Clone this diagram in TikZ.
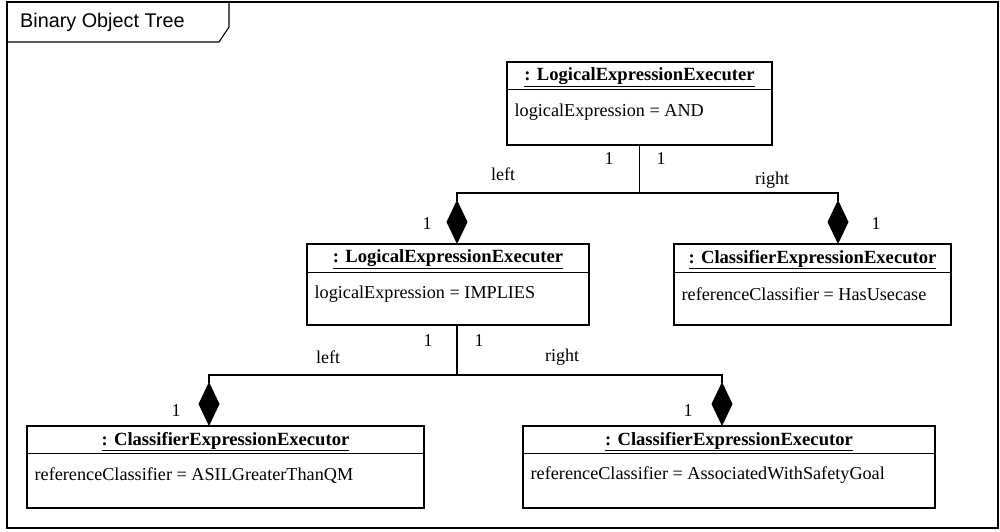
\documentclass[tikz,border=0pt]{standalone}
\usepackage{fontspec}
\setmainfont{Liberation Serif}
\newfontfamily\framefont{Liberation Sans}
\usetikzlibrary{arrows.meta}
\begin{document}
\begin{tikzpicture}[x=1pt,y=-1pt,
  objbox/.style={draw,line width=1.1pt,inner sep=0pt},
  hdr/.style={font=\fontsize{18.6}{21}\selectfont\bfseries,inner sep=0pt},
  attr/.style={font=\fontsize{18.2}{21}\selectfont,anchor=west,inner sep=0pt},
  lbl/.style={font=\fontsize{18}{21}\selectfont,inner sep=0pt},
  link/.style={line width=1.1pt},
  comp/.style={link,-{Diamond[length=44pt,width=21pt]}},
  divider/.style={line width=1.1pt}
]
\useasboundingbox (0,0) rectangle (1000,531);

% diagram frame with its name tab
\draw[line width=1.1pt] (7,2) rectangle (998,528);
\draw[line width=1.1pt] (7,42) -- (219,42) -- (229,27) -- (229,2);
\node[font=\framefont\fontsize{19.8}{23}\selectfont,anchor=west,inner sep=0pt] (title) at (20,22) {Binary Object Tree};

% object boxes
\node[objbox,minimum width=265pt,minimum height=83pt] (T) at (639.5,103.5) {};
\node[objbox,minimum width=282pt,minimum height=81pt] (M) at (448,284.5) {};
\node[objbox,minimum width=277pt,minimum height=81pt] (R) at (812.5,284.5) {};
\node[objbox,minimum width=397pt,minimum height=82pt] (BL) at (225.5,467) {};
\node[objbox,minimum width=412pt,minimum height=82pt] (BR) at (729,467) {};

% compartment dividers
\draw[divider] ([yshift=-28pt]T.north west) -- ([yshift=-28pt]T.north east);
\draw[divider] ([yshift=-29pt]M.north west) -- ([yshift=-29pt]M.north east);
\draw[divider] ([yshift=-29pt]R.north west) -- ([yshift=-29pt]R.north east);
\draw[divider] ([yshift=-28pt]BL.north west) -- ([yshift=-28pt]BL.north east);
\draw[divider] ([yshift=-28pt]BR.north west) -- ([yshift=-28pt]BR.north east);

% object names
\node[hdr] (Th) at ([yshift=-16pt]T.north) {\underline{: LogicalExpressionExecuter}};
\node[hdr] (Mh) at ([yshift=-16pt]M.north) {\underline{: LogicalExpressionExecuter}};
\node[hdr] (Rh) at ([yshift=-16pt]R.north) {\underline{: ClassifierExpressionExecutor}};
\node[hdr] (BLh) at ([yshift=-16pt]BL.north) {\underline{: ClassifierExpressionExecutor}};
\node[hdr] (BRh) at ([yshift=-16pt]BR.north) {\underline{: ClassifierExpressionExecutor}};

% slot values
\node[attr] (Ta) at ([xshift=8pt,yshift=-51pt]T.north west) {logicalExpression = AND};
\node[attr] (Ma) at ([xshift=8pt,yshift=-51pt]M.north west) {logicalExpression = IMPLIES};
\node[attr] (Ra) at ([xshift=8pt,yshift=-51pt]R.north west) {referenceClassifier = HasUsecase};
\node[attr] (BLa) at ([xshift=8pt,yshift=-50pt]BL.north west) {referenceClassifier = ASILGreaterThanQM};
\node[attr] (BRa) at ([xshift=8pt,yshift=-50pt]BR.north west) {referenceClassifier = AssociatedWithSafetyGoal};

% composition links
\coordinate (j1) at (639.5,193);
\coordinate (pM) at (457,244);
\coordinate (pR) at (838,244);
\draw[link] (T.south) -- (j1);
\draw[comp] (j1) -| (pM);
\draw[comp] (j1) -| (pR);

\coordinate (mS) at (457,325);
\coordinate (j2) at (457,375);
\coordinate (pBL) at (209,426);
\coordinate (pBR) at (722,426);
\draw[link] (mS) -- (j2);
\draw[comp] (j2) -| (pBL);
\draw[comp] (j2) -| (pBR);

% multiplicities and role names
\node[lbl] (m1) at (609,159) {1};
\node[lbl] (m2) at (661,159) {1};
\node[lbl] (r1) at (503,174) {left};
\node[lbl] (r2) at (772,180) {right};
\node[lbl] (m3) at (427,224) {1};
\node[lbl] (m4) at (876,224) {1};
\node[lbl] (m5) at (428,341) {1};
\node[lbl] (m6) at (479,341) {1};
\node[lbl] (r3) at (328,357) {left};
\node[lbl] (r4) at (562,357) {right};
\node[lbl] (m7) at (176,411) {1};
\node[lbl] (m8) at (688,411) {1};
\end{tikzpicture}
\end{document}
